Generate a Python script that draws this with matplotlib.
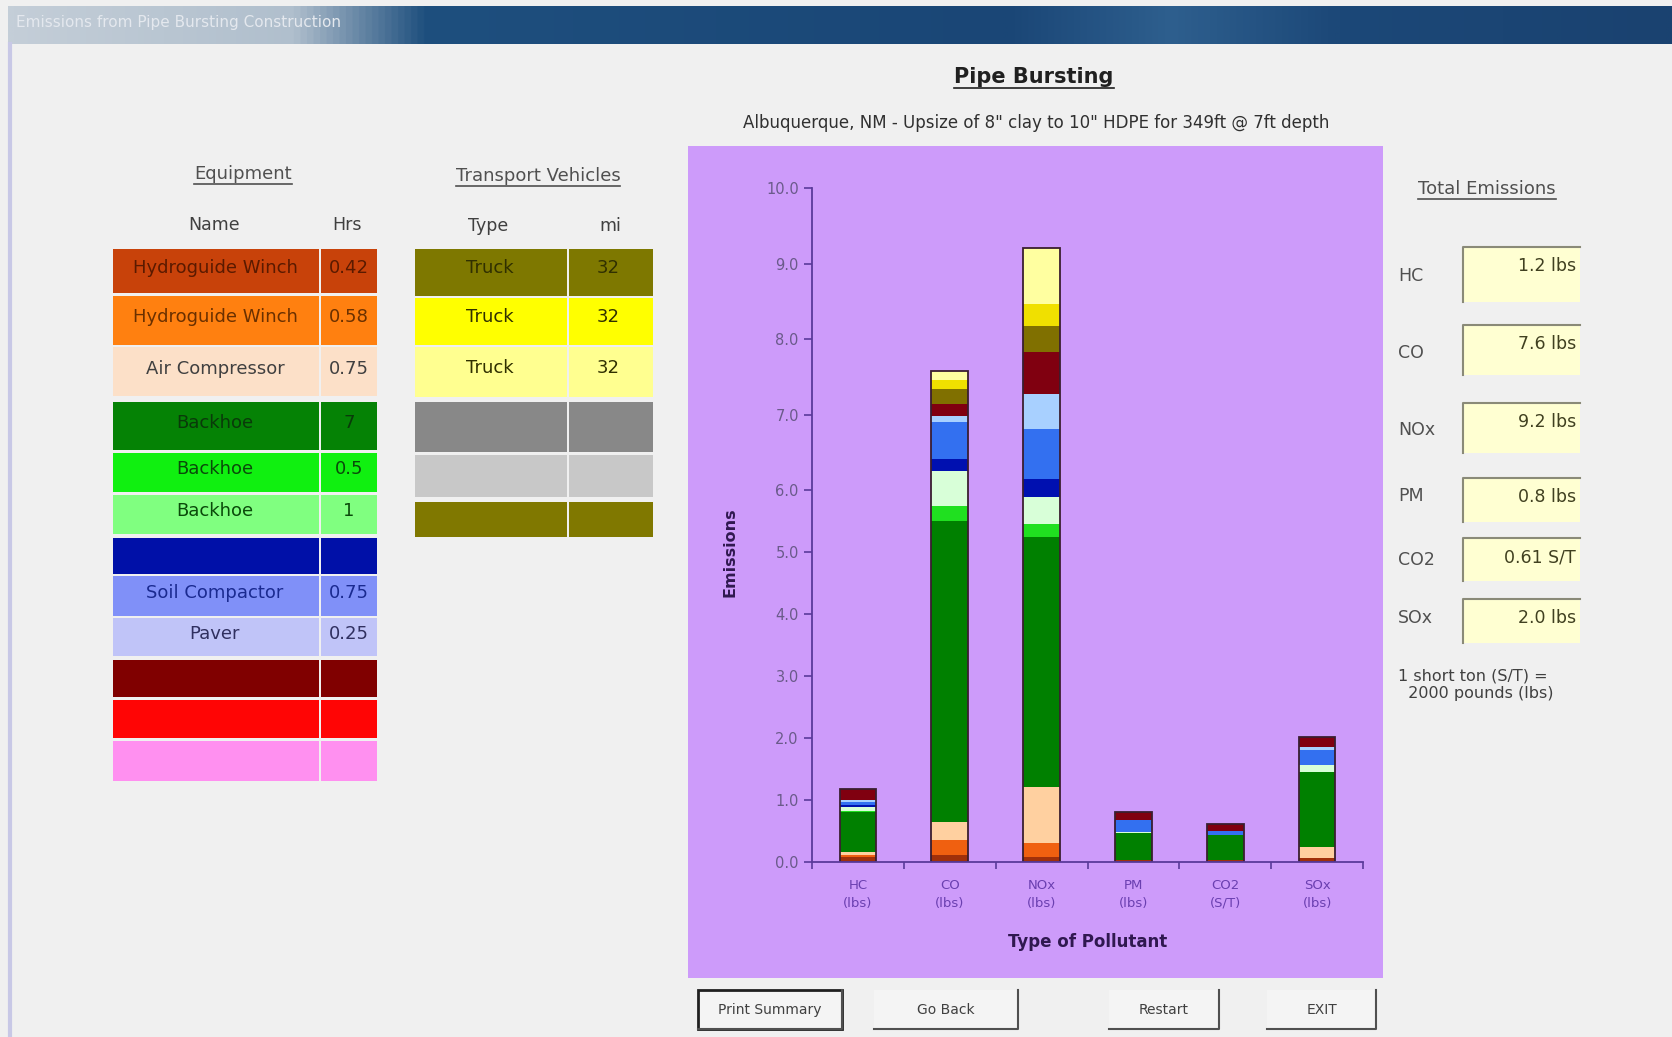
import numpy as np
import matplotlib
matplotlib.use("Agg")
import matplotlib.pyplot as plt
from matplotlib.patches import Rectangle
from matplotlib.lines import Line2D
from matplotlib.colors import LinearSegmentedColormap
from matplotlib.ticker import FormatStrFormatter

# pollutants on the x axis
pollutants = ["HC", "CO", "NOx", "PM", "CO2", "SOx"]
units = ["lbs", "lbs", "lbs", "lbs", "S/T", "lbs"]

# equipment table
equip_names = ["Hydroguide Winch", "Hydroguide Winch", "Air Compressor", "Backhoe",
               "Backhoe", "Backhoe", "", "Soil Compactor", "Paver", "", "", ""]
equip_hrs = ["0.42", "0.58", "0.75", "7", "0.5", "1", "", "0.75", "0.25", "", "", ""]

# transport vehicle table
vehicle_types = ["Truck", "Truck", "Truck", "", "", ""]
vehicle_mi = ["32", "32", "32", "", "", ""]

# emissions by source: 12 equipment rows followed by 6 vehicle rows
hc = [0.08, 0.03, 0.05, 0.65, 0.01, 0.07, 0.03, 0.05, 0.03, 0.18, 0, 0,
      0, 0, 0, 0, 0, 0]
co = [0.11, 0.25, 0.29, 4.85, 0.24, 0.51, 0.16, 0.49, 0.08, 0.16, 0, 0,
      0.20, 0.12, 0.12, 0, 0, 0]
nox = [0.08, 0.23, 0.90, 4.04, 0.20, 0.45, 0.25, 0.66, 0.47, 0.55, 0, 0,
       0.34, 0.29, 0.74, 0, 0, 0]
pm = [0.03, 0, 0, 0.44, 0, 0.02, 0, 0.19, 0, 0.13, 0, 0,
      0, 0, 0, 0, 0, 0]
co2 = [0.03, 0, 0, 0.41, 0, 0, 0, 0.06, 0, 0.11, 0, 0,
       0, 0, 0, 0, 0, 0]
sox = [0.06, 0, 0.18, 1.22, 0, 0.11, 0, 0.24, 0.05, 0.16, 0, 0,
       0, 0, 0, 0, 0, 0]

equip_colors = ["#C8420A", "#FF8010", "#FCE0C8", "#058205", "#10F010", "#80FF80",
                "#0010A8", "#8090F8", "#C0C4F8", "#800000", "#FF0505", "#FF90F0"]
equip_text = ["#5a1a00", "#6a3000", "#404040", "#0a3a0a", "#0a4a0a", "#0a4a0a",
              "#000060", "#1a2a90", "#303060", "#400000", "#600000", "#604060"]
vehicle_colors = ["#7E7800", "#FFFF00", "#FFFF90", "#888888", "#C8C8C8", "#807800"]
bar_colors = ["#A0300A", "#F06010", "#FFD0A0", "#008000", "#20E020", "#D8FFD8",
              "#0010B0", "#3370F0", "#A8D0FF", "#800010", "#FF0000", "#FF80FF",
              "#807000", "#F0E000", "#FFFFA0", "#808080", "#C0C0C0", "#808000"]

W, H = 1672, 1037
BG = "#F0F0F0"


def fx(x):
    return x / W


def fy(y):
    return 1 - y / H


def box(x0, y0, x1, y1, **kw):
    r = Rectangle((fx(x0), fy(y1)), (x1 - x0) / W, (y1 - y0) / H,
                  transform=fig.transFigure, **kw)
    fig.add_artist(r)
    return r


def line(xs, ys, **kw):
    fig.add_artist(Line2D([fx(v) for v in xs], [fy(v) for v in ys],
                          transform=fig.transFigure, **kw))


def underlined(x, y, s, **kw):
    t = fig.text(fx(x), fy(y), s, ha="center", va="center", **kw)
    bb = t.get_window_extent(renderer=fig.canvas.get_renderer())
    yy = (bb.y0 - 1) / fig.bbox.height
    fig.add_artist(Line2D([bb.x0 / fig.bbox.width, bb.x1 / fig.bbox.width], [yy, yy],
                          transform=fig.transFigure, color=kw.get("color", "k"), lw=1.2))


fig = plt.figure(figsize=(W / 100, H / 100), dpi=100, facecolor=BG)

# window title bar
tb = fig.add_axes([0.005, fy(44), 0.995, 38 / H])
cmap = LinearSegmentedColormap.from_list(
    "tb", [(0, "#c4ced8"), (0.17, "#b0bfcd"), (0.25, "#1e4f7e"), (0.6, "#1a4676"),
           (0.7, "#2e5f8e"), (0.8, "#1c4878"), (1, "#1a4270")])
tb.imshow(np.linspace(0, 1, 1024)[None, :], aspect="auto", cmap=cmap, extent=(0, 1, 0, 1))
tb.axis("off")
fig.text(fx(16), fy(22), "Emissions from Pipe Bursting Construction", fontsize=11,
         color="#e4e8ee", va="center")
line([10, 10], [44, H], color="#c8c8e6", lw=3)

# headings
underlined(1034, 77, "Pipe Bursting", fontsize=15, fontweight="bold", color="#202020")
fig.text(fx(1036), fy(123), 'Albuquerque, NM - Upsize of 8" clay to 10" HDPE for 349ft @ 7ft depth',
         ha="center", va="center", fontsize=12, color="#303030")

# equipment table
underlined(243, 174, "Equipment", fontsize=13, color="#505050")
fig.text(fx(214), fy(225), "Name", ha="center", va="center", fontsize=12.5, color="#404040")
fig.text(fx(347), fy(225), "Hrs", ha="center", va="center", fontsize=12.5, color="#404040")
eq_rows = [(249, 293), (296, 345), (347, 396), (402, 450), (453, 492), (495, 534),
           (538, 574), (576, 616), (618, 656), (660, 697), (700, 738), (741, 781)]
for (y0, y1), name, hrs, c, tc in zip(eq_rows, equip_names, equip_hrs, equip_colors, equip_text):
    box(113, y0, 319, y1, facecolor=c, edgecolor="none")
    box(321, y0, 377, y1, facecolor=c, edgecolor="none")
    ym = (y0 + y1) / 2 - 3
    fig.text(fx(215), fy(ym), name, ha="center", va="center", fontsize=13, color=tc)
    fig.text(fx(349), fy(ym), hrs, ha="center", va="center", fontsize=13, color=tc)

# transport vehicle table
underlined(538, 176, "Transport Vehicles", fontsize=13, color="#505050")
fig.text(fx(488), fy(226), "Type", ha="center", va="center", fontsize=12.5, color="#404040")
fig.text(fx(610), fy(226), "mi", ha="center", va="center", fontsize=12.5, color="#404040")
tv_rows = [(249, 296), (298, 345), (347, 397), (402, 452), (455, 497), (502, 537)]
for (y0, y1), typ, mi, c in zip(tv_rows, vehicle_types, vehicle_mi, vehicle_colors):
    box(415, y0, 567, y1, facecolor=c, edgecolor="none")
    box(569, y0, 653, y1, facecolor=c, edgecolor="none")
    ym = (y0 + y1) / 2 - 4
    fig.text(fx(490), fy(ym), typ, ha="center", va="center", fontsize=13, color="#303000")
    fig.text(fx(608), fy(ym), mi, ha="center", va="center", fontsize=13, color="#303000")

# chart panel
box(688, 146, 1383, 978, facecolor="#CD9BFA", edgecolor="none", zorder=-5)

# the value axis is stretched above 6.0
k = 1.22


def fwd(v):
    v = np.asarray(v, float)
    return np.where(v <= 6, v, 6 + (v - 6) * k)


def inv(u):
    u = np.asarray(u, float)
    return np.where(u <= 6, u, 6 + (u - 6) / k)


ax = fig.add_axes([fx(812), fy(862), (1363 - 812) / W, (862 - 188) / H])
ax.set_facecolor("none")
ax.set_yscale("function", functions=(fwd, inv))
ax.set_ylim(0, 10)
ax.set_xlim(-0.5, 5.5)

data = np.array([hc, co, nox, pm, co2, sox])
x = np.arange(len(pollutants))
width = 0.4
bottoms = np.zeros(len(pollutants))
for j in range(data.shape[1]):
    vals = data[:, j]
    ax.bar(x, vals, width, bottom=bottoms, color=bar_colors[j], linewidth=0)
    bottoms += vals
totals = data.sum(axis=1)
ax.bar(x, totals, width, fill=False, edgecolor="#3a1e30", linewidth=1.3)

axis_c = "#5a3a9a"
for s in ["top", "right"]:
    ax.spines[s].set_visible(False)
for s in ["left", "bottom"]:
    ax.spines[s].set_color(axis_c)
    ax.spines[s].set_linewidth(1.3)
ax.set_yticks(np.arange(0, 11))
ax.yaxis.set_major_formatter(FormatStrFormatter("%.1f"))
ax.yaxis.set_minor_locator(plt.NullLocator())
ax.tick_params(axis="y", colors=axis_c, labelcolor="#6a5a8a", labelsize=10.5, length=6, width=1.2)
ax.set_xticks(x)
ax.set_xticklabels([f"{p}\n({u})" for p, u in zip(pollutants, units)], linespacing=1.5)
ax.set_xticks(np.arange(-0.5, 6, 1), minor=True)
ax.tick_params(axis="x", which="major", length=0, pad=12, labelsize=9.5, labelcolor="#6a3fb0")
ax.tick_params(axis="x", which="minor", length=5, width=1.2, colors=axis_c)
ax.set_ylabel("Emissions", fontsize=11.5, fontweight="bold", color="#301850")
ax.yaxis.set_label_coords(-0.135, 0.46)
ax.set_xlabel("Type of Pollutant", fontsize=12, fontweight="bold", color="#301850")
ax.xaxis.set_label_coords(0.5, -0.105)

# total emissions column
underlined(1487, 189, "Total Emissions", fontsize=13, color="#505050")
label_y = [276, 353, 430, 496, 560, 618]
box_rows = [(247, 302), (325, 375), (403, 453), (478, 522), (538, 581), (599, 643)]
for p, u, t, ly, (y0, y1) in zip(pollutants, units, totals, label_y, box_rows):
    fig.text(fx(1398), fy(ly), p, ha="left", va="center", fontsize=12.5, color="#505050")
    box(1463, y0, 1580, y1, facecolor="#FFFFD2", edgecolor="none")
    line([1463, 1463, 1580], [y1, y0, y0], color="#8a8a78", lw=1.5)
    val = f"{t:.2f} {u}" if u == "S/T" else f"{t:.1f} {u}"
    fig.text(fx(1576), fy(y0 + 19), val, ha="right", va="center",
             fontsize=12.5, color="#404020")
fig.text(fx(1398), fy(685), "1 short ton (S/T) =\n  2000 pounds (lbs)", ha="left", va="center",
         fontsize=11.5, color="#404040", linespacing=1.2)

# buttons under the chart
buttons = [(698, 842, "Print Summary"), (874, 1018, "Go Back"), (1109, 1219, "Restart"), (1267, 1376, "EXIT")]
for i, (x0, x1, lab) in enumerate(buttons):
    box(x0, 990, x1, 1029, facecolor="#f4f4f4", edgecolor="#202020" if i == 0 else "none", lw=2)
    line([x0, x1, x1], [1029, 1029, 990], color="#505050", lw=1.5)
    fig.text(fx((x0 + x1) / 2), fy(1010), lab, ha="center", va="center", fontsize=10, color="#404040")

fig.savefig("out.png", dpi=100, facecolor=BG)
